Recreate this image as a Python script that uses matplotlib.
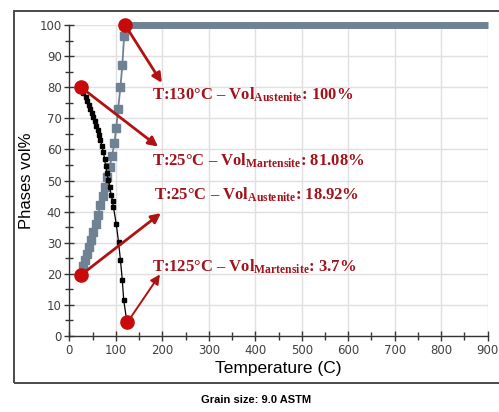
import matplotlib
matplotlib.use("Agg")
import matplotlib.pyplot as plt
from matplotlib.patches import Rectangle
from matplotlib.ticker import MultipleLocator

plt.rcParams['mathtext.fontset'] = 'custom'
plt.rcParams['mathtext.rm'] = 'Liberation Serif:bold'
plt.rcParams['mathtext.bf'] = 'Liberation Serif:bold'
plt.rcParams['mathtext.it'] = 'Liberation Serif:bold'

# ---- data ----
martensite_T = [25, 30, 35, 38, 42, 45, 49, 51, 55, 58, 61, 64, 67, 70, 73, 76, 78,
                81, 84, 87, 90, 93, 95, 101, 106, 110, 114, 117, 124]
martensite_vol = [80, 78, 77, 75.7, 74.2, 72.9, 71.8, 70.5, 69, 67.6, 66.2, 64.6, 63,
                  61.1, 59.2, 57, 54.7, 52.3, 50.2, 48, 45.3, 43.5, 41.4, 36, 30.1,
                  24.4, 18, 11.6, 4.4]

austenite_T = [25, 29, 33, 37, 42, 47, 52, 57, 62, 67, 72, 77, 82, 87, 92, 97,
               101, 105, 110, 114, 118]
austenite_vol = [19.6, 22.5, 24.5, 26.5, 28.5, 31, 33.5, 36, 39, 42, 45, 48, 51,
                 54.5, 58, 62, 67, 73, 80, 87, 96.5]
plateau_T = [119, 900]
plateau_vol = [100, 100]

marker_T = [120, 25, 25, 125]
marker_vol = [100, 80, 19.6, 4.4]
arrow_head_T = [199, 191, 197, 195]
arrow_head_vol = [81.4, 60.9, 39.5, 19.8]
arrow_lw = [2.0, 2.0, 2.0, 1.4]

label_texts = [
    r"T:130°C – Vol$_{\mathrm{Austenite}}$: 100%",
    r"T:25°C – Vol$_{\mathrm{Martensite}}$: 81.08%",
    r"T:25°C – Vol$_{\mathrm{Austenite}}$: 18.92%",
    r"T:125°C – Vol$_{\mathrm{Martensite}}$: 3.7%",
]
label_T = [177, 177, 182, 177]
label_vol = [75.9, 54.7, 44.0, 20.7]

xticks = [0, 100, 200, 300, 400, 500, 600, 700, 800, 900]
yticks = [0, 10, 20, 30, 40, 50, 60, 70, 80, 90, 100]

# ---- figure ----
fig = plt.figure(figsize=(4.99, 4.12), dpi=100)
fig.patches.append(Rectangle((14 / 499, 1 - 383 / 412), 1.2, (383 - 11) / 412,
                             transform=fig.transFigure, fill=False,
                             edgecolor='#4a4a4a', lw=1.4))
ax = fig.add_axes([69.3 / 499, 1 - 336 / 412, (487.7 - 69.3) / 499, (336 - 25) / 412])

gray = '#6f8294'
ax.plot(plateau_T, plateau_vol, color=gray, lw=5.0, solid_capstyle='butt',
        clip_on=False, zorder=3)
ax.plot(austenite_T, austenite_vol, color=gray, lw=1.3, marker='s', ms=5.4,
        mec=gray, mfc=gray, clip_on=False, zorder=3)
ax.plot(martensite_T, martensite_vol, color='black', lw=0.9, marker='s', ms=3.2,
        mec='black', mfc='black', clip_on=False, zorder=4)

red = '#c80a0a'
for xt, yt, xh, yh, lw in zip(marker_T, marker_vol, arrow_head_T, arrow_head_vol, arrow_lw):
    ax.annotate('', xy=(xh, yh), xytext=(xt, yt),
                arrowprops=dict(arrowstyle='-|>', color='#b01212', lw=lw,
                                mutation_scale=14, shrinkA=0, shrinkB=0),
                annotation_clip=False, zorder=5)
ax.plot(marker_T, marker_vol, linestyle='none', marker='o', ms=9.5,
        color=red, clip_on=False, zorder=6)

for txt, xt, yt in zip(label_texts, label_T, label_vol):
    ax.text(xt, yt, txt, fontsize=12, color='#a3111a', family='Liberation Serif',
            fontweight='bold', va='baseline', ha='left', zorder=7)

ax.set_xlim(0, 900)
ax.set_ylim(0, 100)
ax.set_xticks(xticks)
ax.set_yticks(yticks)
ax.xaxis.set_minor_locator(MultipleLocator(50))
ax.yaxis.set_minor_locator(MultipleLocator(5))
ax.tick_params(which='both', direction='inout', color='#333333', width=1.0,
               labelsize=8.5, labelcolor='#404040')
ax.tick_params(which='major', length=7)
ax.tick_params(which='minor', length=6)
ax.tick_params(axis='x', pad=2)
ax.tick_params(axis='y', pad=2)
for s in ['top', 'right']:
    ax.spines[s].set_visible(False)
for s in ['left', 'bottom']:
    ax.spines[s].set_color('#333333')
    ax.spines[s].set_linewidth(1.0)
ax.grid(True, which='major', color='#e0e0e0', lw=1.0)
ax.set_axisbelow(True)

ax.set_xlabel('Temperature (C)', fontsize=12.5, family='Liberation Sans', labelpad=3)
ax.set_ylabel('Phases vol%', fontsize=12, family='Liberation Sans', labelpad=4)

fig.text(256 / 499, 1 - 403 / 412, 'Grain size: 9.0 ASTM', fontsize=8,
         fontweight='bold', family='Liberation Sans', ha='center', va='baseline')

fig.savefig('out.png', dpi=100)
